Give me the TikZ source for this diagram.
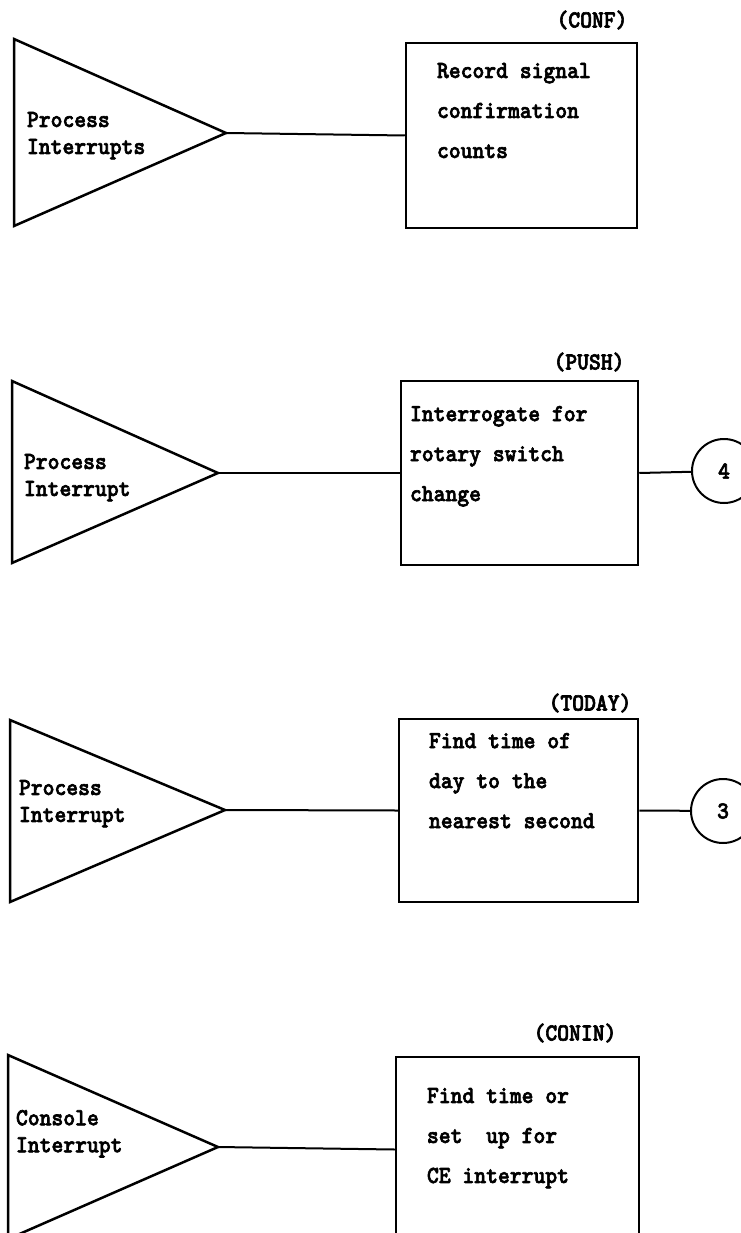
\documentclass[tikz,border=0pt]{standalone}
\usepackage{fontspec}
\newfontfamily\typefont[FakeStretch=0.92, FakeBold=2.5]{lmmonolt10-bold.otf}

\begin{document}
\begin{tikzpicture}[x=1pt, y=-1pt, line width=2pt,
    every node/.style={font=\typefont\fontsize{24.5pt}{40pt}\selectfont},
    trig/.style={line width=2.5pt, line join=miter},
    taskbox/.style={draw, line width=2.5pt, inner sep=0pt},
    boxtext/.style={anchor=north west, align=left, inner sep=0pt},
    trigtext/.style={anchor=north west, align=left, inner sep=0pt,
        font=\typefont\fontsize{24.5pt}{27pt}\selectfont},
    tagtext/.style={inner sep=0pt},
    offpage/.style={circle, draw, minimum size=64pt, inner sep=0pt}]
    \useasboundingbox (0,0) rectangle (740,1233);

    % CONF
    \draw[trig] (14,39) -- (226,133) coordinate (confin) -- (14,226) -- cycle;
    \node[trigtext] (confsrc) at (26,111) {Process\\Interrupts};
    \node[taskbox, minimum width=231pt, minimum height=185pt] (conf) at (521.5,135.5) {};
    \node[boxtext] (confdesc) at (436,62) {Record signal\\confirmation\\counts};
    \node[tagtext] (conftag) at (592,20) {(CONF)};
    \draw (confin) -- (conf.west);

    % PUSH
    \draw[trig] (12,381) -- (218,473) coordinate (pushin) -- (12,563) -- cycle;
    \node[trigtext] (pushsrc) at (23,453) {Process\\Interrupt};
    \node[taskbox, minimum width=237pt, minimum height=184pt] (push) at (519.5,473) {};
    \node[boxtext] (pushdesc) at (409,405) {Interrogate for\\rotary switch\\change};
    \node[tagtext] (pushtag) at (589,362) {(PUSH)};
    \node[offpage] (c4) at (724,471) {4};
    \draw (pushin) -- (push.west);
    \draw (push.east) -- (c4);

    % TODAY
    \draw[trig] (10,720) -- (225,810) coordinate (todayin) -- (10,902) -- cycle;
    \node[trigtext] (todaysrc) at (18,779) {Process\\Interrupt};
    \node[taskbox, minimum width=239pt, minimum height=183pt] (today) at (518.5,810.5) {};
    \node[boxtext] (todaydesc) at (428,732) {Find time of\\day to the\\nearest second};
    \node[tagtext] (todaytag) at (590,703) {(TODAY)};
    \node[offpage] (c3) at (723,811) {3};
    \draw (todayin) -- (today.west);
    \draw (today.east) -- (c3);

    % CONIN
    \draw[trig] (8,1055) -- (218,1147) coordinate (coninin) -- (8,1239) -- cycle;
    \node[trigtext] (coninsrc) at (15,1109) {Console\\Interrupt};
    \node[taskbox, minimum width=243pt, minimum height=185pt] (conin) at (517.5,1149.5) {};
    \node[boxtext] (conindesc) at (426,1087) {Find time or\\set~~up for\\CE interrupt};
    \node[tagtext] (conintag) at (575,1033) {(CONIN)};
    \draw (coninin) -- (conin.west);
\end{tikzpicture}
\end{document}
